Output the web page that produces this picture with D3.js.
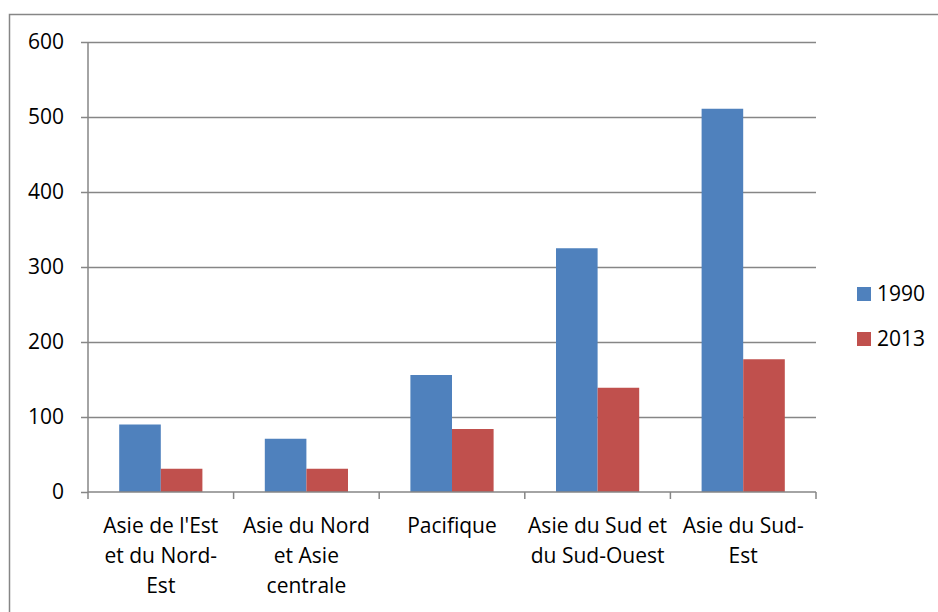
<!DOCTYPE html>
<html>
<head>
<meta charset="utf-8">
<script src="https://cdn.jsdelivr.net/npm/d3@7/dist/d3.min.js"></script>
<style>
  html, body { margin: 0; padding: 0; background: #fff; }
  svg { display: block; }
  text { font-family: "Open Sans", "Liberation Sans", sans-serif; fill: #000; }
</style>
</head>
<body>
<svg id="chart" width="938" height="612"></svg>
<script>
// Régions (libellés avec retours à la ligne)
const categories = [
  "Asie de l'Est\net du Nord-\nEst",
  "Asie du Nord\net Asie\ncentrale",
  "Pacifique",
  "Asie du Sud et\ndu Sud-Ouest",
  "Asie du Sud-\nEst"
];
const seriesNames = ["1990", "2013"];
const values1990 = [90, 71, 156, 325, 511];
const values2013 = [31, 31, 84, 139, 177];
const yTicks = [0, 100, 200, 300, 400, 500, 600];
const colors = ["#4F81BD", "#C0504D"];

const svg = d3.select("#chart");
const plot = { left: 88, right: 816, top: 42, bottom: 492 };
const gray = "#868686";

// Cadre extérieur
svg.append("rect")
  .attr("x", 9.5).attr("y", 14.5)
  .attr("width", 960).attr("height", 640)
  .attr("fill", "none").attr("stroke", gray).attr("stroke-width", 1.5);

const x0 = d3.scaleBand().domain(categories).range([plot.left, plot.right]).paddingInner(0).paddingOuter(0);
const x1 = d3.scaleBand().domain(seriesNames).range([0, x0.bandwidth()]).paddingOuter(0.75).paddingInner(0);
const y = d3.scaleLinear().domain([0, 600]).range([plot.bottom, plot.top]);

// Quadrillage
svg.append("g").selectAll("line").data(yTicks.filter(d => d > 0)).join("line")
  .attr("x1", plot.left).attr("x2", plot.right)
  .attr("y1", d => Math.round(y(d)) + 0.5).attr("y2", d => Math.round(y(d)) + 0.5)
  .attr("stroke", gray).attr("stroke-width", 1.5);

// Barres
const data = categories.map((c, i) => ({ cat: c, vals: [values1990[i], values2013[i]] }));
const groups = svg.append("g").selectAll("g").data(data).join("g")
  .attr("transform", d => `translate(${x0(d.cat)},0)`);
groups.selectAll("rect").data(d => d.vals.map((v, j) => ({ s: seriesNames[j], v, j }))).join("rect")
  .attr("x", d => x1(d.s))
  .attr("width", x1.bandwidth())
  .attr("y", d => y(d.v))
  .attr("height", d => y(0) - y(d.v))
  .attr("fill", d => colors[d.j]);

// Axe Y
const yAxis = d3.axisLeft(y).tickValues(yTicks).tickSize(7).tickPadding(17);
const gy = svg.append("g").attr("transform", `translate(${plot.left},0)`).call(yAxis);
gy.select(".domain").attr("stroke", gray).attr("stroke-width", 1.5).attr("d", `M0,${plot.top}V${plot.bottom}`);
gy.selectAll(".tick line").attr("stroke", gray).attr("stroke-width", 1.5);
gy.selectAll(".tick text").attr("font-size", 21).attr("font-family", "Open Sans").attr("fill", "#000");

// Axe X
const xAxis = d3.axisBottom(x0).tickSize(0).tickFormat("");
const gx = svg.append("g").attr("transform", `translate(0,${plot.bottom})`).call(xAxis);
gx.select(".domain").attr("stroke", gray).attr("stroke-width", 1.5).attr("d", `M${plot.left},0H${plot.right}`);
const tickPos = categories.map(c => x0(c)).concat([plot.right]);
gx.append("g").selectAll("line").data(tickPos).join("line")
  .attr("x1", d => d).attr("x2", d => d).attr("y1", 0).attr("y2", 7)
  .attr("stroke", gray).attr("stroke-width", 1.5);

// Libellés des catégories
const labels = svg.append("g").selectAll("text").data(categories).join("text")
  .attr("text-anchor", "middle")
  .attr("font-size", 21)
  .attr("x", d => x0(d) + x0.bandwidth() / 2)
  .attr("y", 533);
labels.selectAll("tspan").data(d => d.split("\n")).join("tspan")
  .attr("x", function() { return d3.select(this.parentNode).attr("x"); })
  .attr("dy", (d, i) => i === 0 ? 0 : 30)
  .text(d => d);

// Légende
const legend = svg.append("g").selectAll("g").data(seriesNames).join("g")
  .attr("transform", (d, i) => `translate(857,${287 + i * 45})`);
legend.append("rect").attr("width", 14).attr("height", 14).attr("fill", (d, i) => colors[i]);
legend.append("text").attr("x", 20).attr("y", 14).attr("font-size", 21).text(d => d);
</script>
</body>
</html>
